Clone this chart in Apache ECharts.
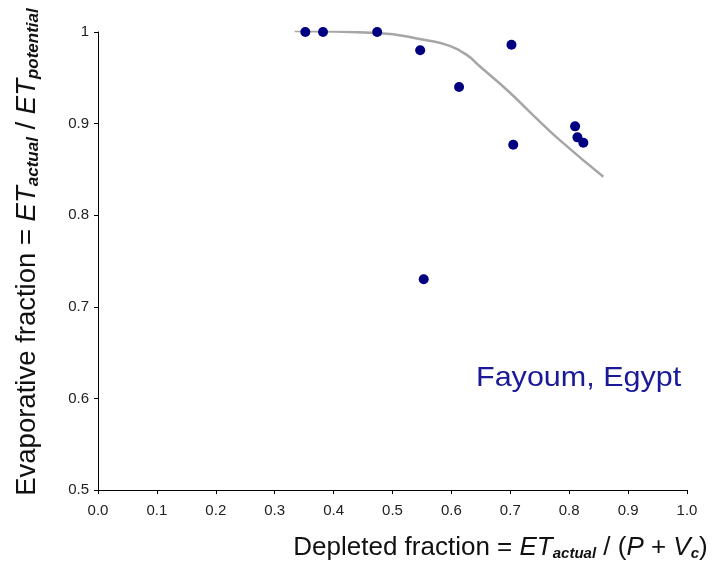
<!DOCTYPE html>
<html><head><meta charset="utf-8">
<script src="https://cdn.jsdelivr.net/npm/echarts@6/dist/echarts.min.js"></script>
<style>html,body{margin:0;padding:0;background:#fff}#c{width:714px;height:573px}</style>
</head><body><div id="c"></div>
<script>
// Observed points (depleted fraction, evaporative fraction)
const pointX = [0.352, 0.382, 0.474, 0.547, 0.553, 0.613, 0.702, 0.705, 0.810, 0.814, 0.824];
const pointY = [1.000, 1.000, 1.000, 0.980, 0.730, 0.940, 0.986, 0.877, 0.897, 0.885, 0.879];
// Fitted curve
const curveX = [0.334, 0.473, 0.558, 0.592, 0.626, 0.649, 0.694, 0.739, 0.784, 0.858];
const curveY = [1.001, 0.999, 0.991, 0.986, 0.975, 0.962, 0.937, 0.909, 0.882, 0.842];
const xTicks = ['0.0','0.1','0.2','0.3','0.4','0.5','0.6','0.7','0.8','0.9','1.0'];
const annotation = 'Fayoum, Egypt';

const font = 'Liberation Sans, Arial, sans-serif';
function mkRich(size, sub, off) {
  return {
    n: {fontSize: size, fontFamily: font, color: '#111'},
    i: {fontSize: size, fontFamily: font, fontStyle: 'italic', color: '#111'},
    s: {fontSize: sub, fontFamily: font, fontStyle: 'italic', fontWeight: 'bold', color: '#111', padding: [off, 0, 0, 0]}
  };
}
const chart = echarts.init(document.getElementById('c'), null, {renderer: 'canvas'});
chart.setOption({
  animation: false,
  backgroundColor: '#fff',
  grid: {left: 98, right: 27, top: 32, bottom: 83},
  xAxis: {
    type: 'value', min: 0, max: 1, interval: 0.1,
    axisLine: {lineStyle: {color: '#000', width: 1}},
    axisTick: {length: 4, lineStyle: {color: '#000'}},
    splitLine: {show: false},
    axisLabel: {color: '#222', fontFamily: font, fontSize: 15, margin: 13,
      formatter: v => xTicks[Math.round(v * 10)]},
    name: '{n|Depleted fraction = }{i|ET}{s|actual}{n| / (}{i|P}{n| + }{i|V}{s|c}{n|)}',
    nameLocation: 'middle', nameGap: 44,
    nameTextStyle: {rich: mkRich(26, 15, 12), padding: [0, 0, 0, 216]}
  },
  yAxis: {
    type: 'value', min: 0.5, max: 1, interval: 0.1,
    axisLine: {show: true, lineStyle: {color: '#000', width: 1}},
    axisTick: {show: true, length: 4, lineStyle: {color: '#000'}},
    splitLine: {show: false},
    axisLabel: {color: '#222', fontFamily: font, fontSize: 15, margin: 9},
    name: '{n|Evaporative fraction = }{i|ET}{s|actual}{n| / }{i|ET}{s|potential}',
    nameLocation: 'middle', nameGap: 56, nameRotate: 90,
    nameTextStyle: {rich: mkRich(27.5, 17, 12), padding: [0, 0, 0, 18]}
  },
  graphic: [{
    type: 'text', left: 476, top: 364, scaleX: 1.09,
    style: {text: annotation, fill: '#1a1a99', font: '28px ' + font}
  }],
  series: [
    {type: 'line', data: curveX.map((x, i) => [x, curveY[i]]), smooth: true, showSymbol: false,
     lineStyle: {color: '#a6a6a6', width: 2.5}, z: 1},
    {type: 'scatter', data: pointX.map((x, i) => [x, pointY[i]]), symbolSize: 10,
     itemStyle: {color: '#000080', opacity: 1}, z: 2}
  ]
});
</script></body></html>
